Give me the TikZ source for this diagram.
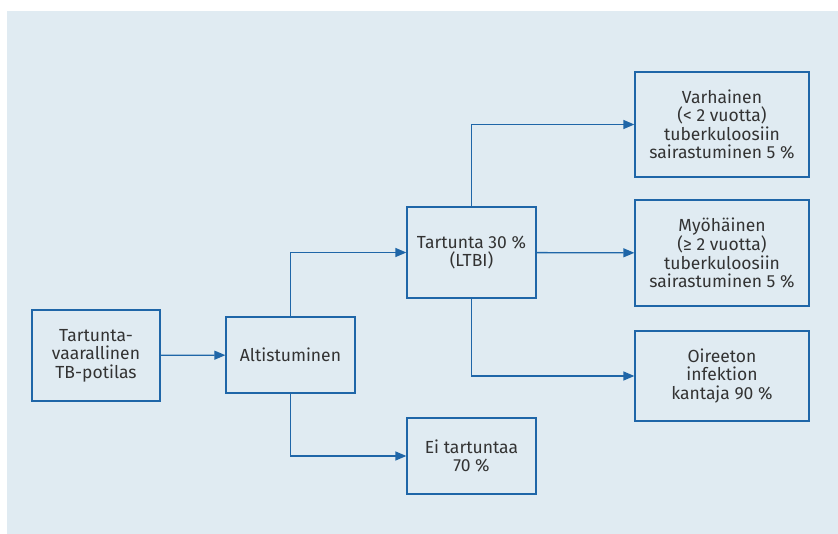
\documentclass[tikz,border=0pt]{standalone}
\usepackage{fontspec}
\setmainfont{Fira Sans}
\usetikzlibrary{arrows.meta}
\definecolor{bgblue}{HTML}{E0EBF2}
\definecolor{lineblue}{HTML}{1F66A8}
\definecolor{txtgray}{HTML}{333333}
\tikzset{
  box/.style={draw=lineblue, line width=1.3pt, align=center, text=txtgray,
    font=\fontsize{17.5}{18.4}\selectfont, inner sep=0pt},
  link/.style={draw=lineblue, line width=1.3pt, -{Triangle[length=11pt,width=9pt]}}
}

\begin{document}
\begin{tikzpicture}[x=1pt, y=-1pt]
\useasboundingbox (0,0) rectangle (838,534);
\fill[bgblue] (7,11) rectangle (838,534);
\node[box,minimum width=128pt,minimum height=91pt] (potilas) at (96,355.5) {Tartunta-\\vaarallinen\\TB-potilas};
\node[box,minimum width=129pt,minimum height=76pt] (alt) at (290.5,355) {Altistuminen};
\node[box,minimum width=129pt,minimum height=91pt] (tartunta) at (471.5,252.5) {Tartunta 30 \%\\(LTBI)};
\node[box,minimum width=129pt,minimum height=76pt] (ei) at (471.5,456) {Ei tartuntaa\\70 \%};
\node[box,minimum width=174pt,minimum height=105pt] (varhainen) at (722,124.5) {Varhainen\\(< 2 vuotta)\\tuberkuloosiin\\sairastuminen 5 \%};
\node[box,minimum width=174pt,minimum height=106pt] (myohainen) at (722,253) {Myöhäinen\\(≥ 2 vuotta)\\tuberkuloosiin\\sairastuminen 5 \%};
\node[box,minimum width=174pt,minimum height=90pt] (oireeton) at (722,376) {Oireeton\\infektion\\kantaja 90 \%};
\draw[link] (potilas) -- (alt);
\draw[link] (alt.north) |- (tartunta.west);
\draw[link] (alt.south) |- (ei.west);
\draw[link] (tartunta.north) |- (varhainen.west);
\draw[link] (tartunta) -- (myohainen);
\draw[link] (tartunta.south) |- (oireeton.west);
\end{tikzpicture}
\end{document}
